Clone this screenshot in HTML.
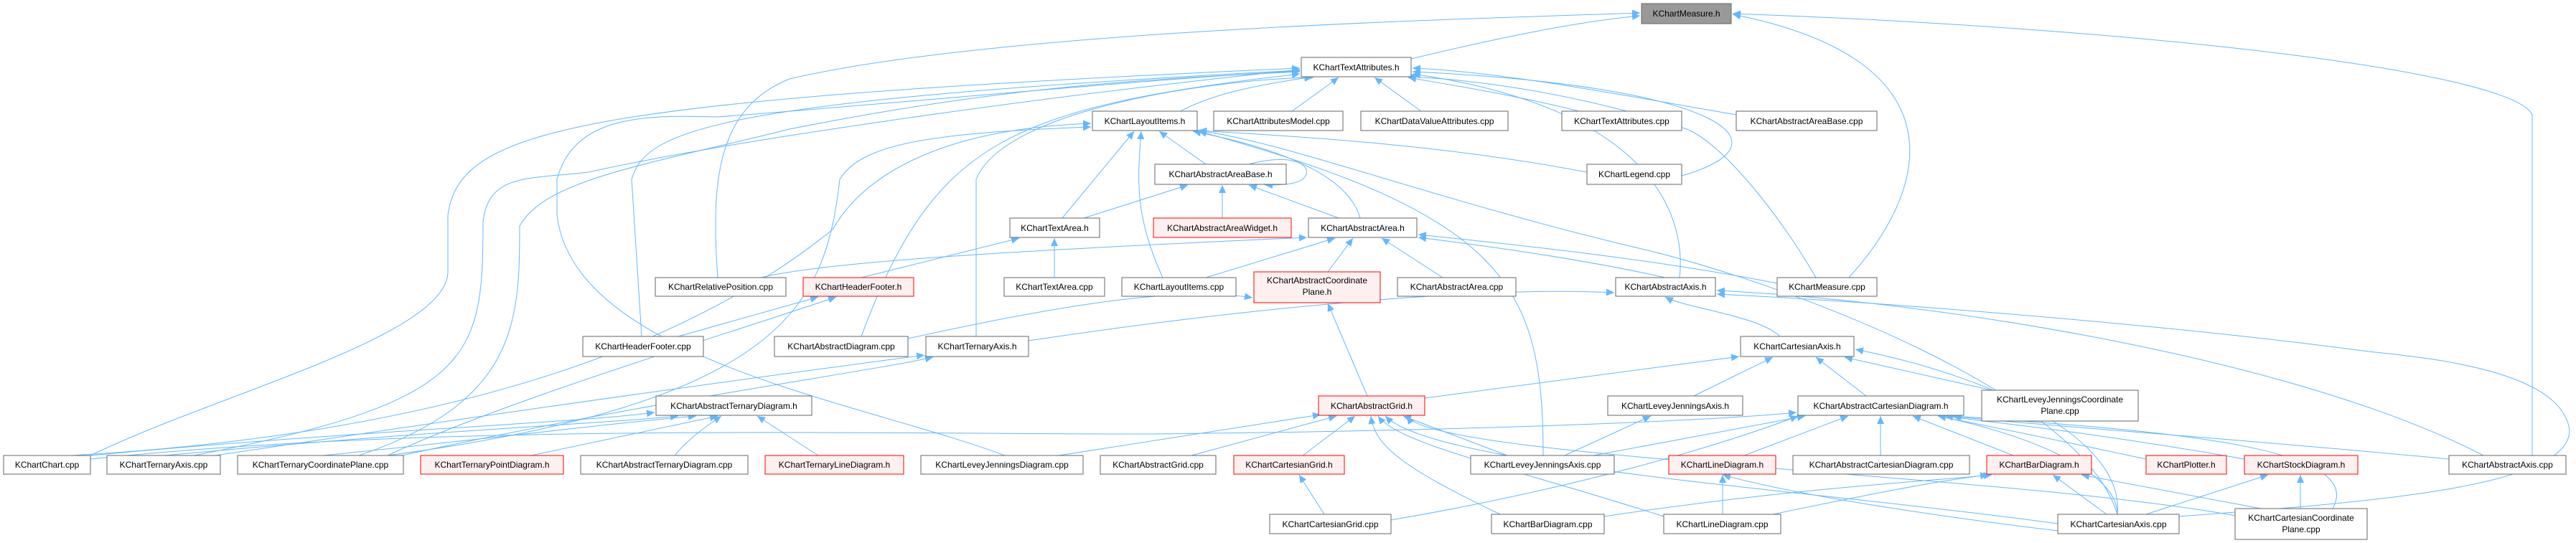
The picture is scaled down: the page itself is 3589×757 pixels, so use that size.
<!DOCTYPE html>
<html><head><meta charset="utf-8"><style>
html,body{margin:0;padding:0;background:#fff;}
svg{display:block;}
text{font-family:"Liberation Sans",sans-serif;font-size:12px;fill:#000;}
.n{fill:#fff;stroke:#666;stroke-width:1;}
.r{fill:#fff0f0;stroke:#f00;stroke-width:1;}
.g{fill:#999;stroke:#666;stroke-width:1;}
path.e{fill:none;stroke:#63b8ff;stroke-width:1;}
</style></head><body>
<svg width="3589" height="757" viewBox="0 0 3589 757" xmlns="http://www.w3.org/2000/svg">
<defs><marker id="a" markerUnits="userSpaceOnUse" markerWidth="12" markerHeight="10" refX="11" refY="5" orient="auto"><path d="M0,0 L11,5 L0,10 z" fill="#63b8ff"/></marker></defs>
<g marker-end="url(#a)">
<path class="e" d="M1966,82 C2100,50 2200,30 2285,22"/>
<path class="e" d="M1000,387 C990,250 1000,150 1100,110 C1400,40 2100,25 2285,18"/>
<path class="e" d="M2576,387 C2700,250 2720,80 2414,20"/>
<path class="e" d="M3528,635 L3528,160 C3500,100 3000,40 2414,19"/>
<path class="e" d="M1645,155 C1700,125 1780,115 1828,107"/>
<path class="e" d="M1800,155 L1865,108"/>
<path class="e" d="M1980,155 L1915,108"/>
<path class="e" d="M2200,155 C2100,130 2000,115 1962,108"/>
<path class="e" d="M2419,160 C2300,140 2100,100 1968,95"/>
<path class="e" d="M2343,245 C2500,200 2400,120 1968,100"/>
<path class="e" d="M2340,387 C2350,300 2300,150 1968,103"/>
<path class="e" d="M2530,387 C2480,300 2400,200 2350,180 C2200,130 2050,110 1960,107"/>
<path class="e" d="M126,635 C300,550 620,470 624,380 L624,300 C640,180 800,140 1811,95"/>
<path class="e" d="M270,635 C660,560 673,500 673,310 C680,240 740,250 820,240 C1000,200 1400,140 1811,97"/>
<path class="e" d="M500,635 C720,560 724,450 724,315 C760,250 900,230 1100,180 C1400,120 1600,110 1811,100"/>
<path class="e" d="M894,469 L880,250 C900,180 1000,140 1811,98"/>
<path class="e" d="M1200,469 C1300,200 1400,150 1811,103"/>
<path class="e" d="M1360,469 L1360,250 C1400,150 1700,110 1830,108"/>
<path class="e" d="M1400,635 C1200,560 800,500 776,300 L776,250 C800,160 900,160 1000,163 C1300,140 1600,110 1811,99"/>
<path class="e" d="M1480,304 L1580,183"/>
<path class="e" d="M1620,387 C1580,300 1585,250 1590,183"/>
<path class="e" d="M1680,229 L1615,183"/>
<path class="e" d="M1895,304 C1880,250 1800,210 1662,183"/>
<path class="e" d="M2211,240 C2000,200 1800,190 1670,182"/>
<path class="e" d="M2150,635 C2150,400 2100,300 1670,183"/>
<path class="e" d="M100,635 C700,600 1000,450 1160,320 C1200,250 1300,180 1520,172"/>
<path class="e" d="M540,635 C1100,560 1150,420 1170,250 C1200,200 1300,185 1520,177"/>
<path class="e" d="M2950,717 C2900,550 2500,400 2300,350 C2000,280 1800,200 1670,182"/>
<path class="e" d="M1740,229 C1790,215 1825,225 1820,243 C1815,257 1790,258 1762,258"/>
<path class="e" d="M1510,304 L1655,258"/>
<path class="e" d="M1703,304 L1703,258"/>
<path class="e" d="M1865,304 L1740,258"/>
<path class="e" d="M1680,387 L1860,332"/>
<path class="e" d="M1850,379 L1885,332"/>
<path class="e" d="M2010,387 L1925,332"/>
<path class="e" d="M2320,387 C2200,360 2050,340 1976,331"/>
<path class="e" d="M2476,395 C2300,360 2100,340 1976,327"/>
<path class="e" d="M1060,387 C1150,365 1400,350 1821,331"/>
<path class="e" d="M1200,387 L1420,332"/>
<path class="e" d="M1469,387 L1469,332"/>
<path class="e" d="M945,469 L1140,414"/>
<path class="e" d="M540,635 C700,560 1000,470 1165,414"/>
<path class="e" d="M1265,472 C1500,420 1650,400 1745,415"/>
<path class="e" d="M1905,552 L1850,423"/>
<path class="e" d="M1433,475 C1800,420 2100,400 2249,408"/>
<path class="e" d="M2480,469 C2450,440 2350,430 2320,414"/>
<path class="e" d="M3460,635 C3200,500 2700,420 2392,405"/>
<path class="e" d="M3036,720 C3300,700 3580,680 3580,600 C3570,520 3400,500 3300,490 C3000,450 2600,420 2392,410"/>
<path class="e" d="M300,635 C800,560 1100,520 1288,495"/>
<path class="e" d="M560,635 C900,560 1200,520 1300,498"/>
<path class="e" d="M1985,555 L2423,497"/>
<path class="e" d="M2360,552 L2470,498"/>
<path class="e" d="M2600,552 L2530,498"/>
<path class="e" d="M2775,544 L2570,498"/>
<path class="e" d="M2950,717 C2960,620 2800,530 2585,487"/>
<path class="e" d="M126,635 C500,600 800,590 912,575"/>
<path class="e" d="M230,635 C600,600 850,590 945,580"/>
<path class="e" d="M450,635 C700,610 850,590 970,580"/>
<path class="e" d="M740,635 L1000,580"/>
<path class="e" d="M940,635 C960,610 990,590 1005,580"/>
<path class="e" d="M1140,635 L1055,580"/>
<path class="e" d="M1475,635 L1840,578"/>
<path class="e" d="M1660,635 L1862,580"/>
<path class="e" d="M1815,635 L1888,580"/>
<path class="e" d="M2100,635 L1955,580"/>
<path class="e" d="M2090,717 C1950,650 1915,620 1910,580"/>
<path class="e" d="M2318,720 C2100,650 1950,620 1920,580"/>
<path class="e" d="M2867,730 C2500,680 2000,650 1930,580"/>
<path class="e" d="M3120,720 C2800,660 2000,640 1960,580"/>
<path class="e" d="M2180,635 L2300,580"/>
<path class="e" d="M126,640 C600,590 1200,605 1600,605 C2100,600 2400,585 2503,575"/>
<path class="e" d="M2220,635 L2515,580"/>
<path class="e" d="M2430,635 L2575,580"/>
<path class="e" d="M2620,635 L2620,580"/>
<path class="e" d="M2805,635 L2665,580"/>
<path class="e" d="M2990,640 C2850,610 2750,590 2700,580"/>
<path class="e" d="M3127,640 C2900,600 2780,590 2710,580"/>
<path class="e" d="M3412,640 C3100,610 2800,590 2720,580"/>
<path class="e" d="M2950,717 C2950,650 2800,600 2700,580"/>
<path class="e" d="M3250,709 C3300,620 3000,600 2722,580"/>
<path class="e" d="M1938,725 C2200,680 2400,620 2505,580"/>
<path class="e" d="M1845,717 L1810,662"/>
<path class="e" d="M2400,717 L2400,662"/>
<path class="e" d="M2867,740 C2700,720 2500,690 2400,662"/>
<path class="e" d="M2235,720 C2500,680 2700,670 2775,662"/>
<path class="e" d="M2935,717 L2860,662"/>
<path class="e" d="M3150,709 L2900,662"/>
<path class="e" d="M2470,717 C2600,690 2700,670 2770,662"/>
<path class="e" d="M2990,717 L3160,662"/>
<path class="e" d="M3205,709 L3205,662"/>
</g>
<g>
<rect class="g" x="2287" y="5" width="125" height="28"/><text x="2349.5" y="23" text-anchor="middle">KChartMeasure.h</text>
<rect class="n" x="1813" y="80" width="153" height="27"/><text x="1889.5" y="98" text-anchor="middle">KChartTextAttributes.h</text>
<rect class="n" x="1522" y="155" width="146" height="27"/><text x="1595" y="173" text-anchor="middle">KChartLayoutItems.h</text>
<rect class="n" x="1691" y="155" width="180" height="27"/><text x="1781" y="173" text-anchor="middle">KChartAttributesModel.cpp</text>
<rect class="n" x="1896" y="155" width="205" height="27"/><text x="1998.5" y="173" text-anchor="middle">KChartDataValueAttributes.cpp</text>
<rect class="n" x="2176" y="155" width="167" height="27"/><text x="2259.5" y="173" text-anchor="middle">KChartTextAttributes.cpp</text>
<rect class="n" x="2419" y="155" width="196" height="27"/><text x="2517" y="173" text-anchor="middle">KChartAbstractAreaBase.cpp</text>
<rect class="n" x="1609" y="229" width="183" height="28"/><text x="1700.5" y="247" text-anchor="middle">KChartAbstractAreaBase.h</text>
<rect class="n" x="2211" y="229" width="132" height="28"/><text x="2277" y="247" text-anchor="middle">KChartLegend.cpp</text>
<rect class="n" x="1407" y="304" width="125" height="27"/><text x="1469.5" y="322" text-anchor="middle">KChartTextArea.h</text>
<rect class="r" x="1607" y="304" width="192" height="27"/><text x="1703" y="322" text-anchor="middle">KChartAbstractAreaWidget.h</text>
<rect class="n" x="1823" y="304" width="151" height="27"/><text x="1898.5" y="322" text-anchor="middle">KChartAbstractArea.h</text>
<rect class="n" x="913" y="387" width="182" height="26"/><text x="1004" y="404" text-anchor="middle">KChartRelativePosition.cpp</text>
<rect class="r" x="1119" y="387" width="154" height="26"/><text x="1196" y="404" text-anchor="middle">KChartHeaderFooter.h</text>
<rect class="n" x="1399" y="387" width="140" height="26"/><text x="1469" y="404" text-anchor="middle">KChartTextArea.cpp</text>
<rect class="n" x="1563" y="387" width="159" height="26"/><text x="1642.5" y="404" text-anchor="middle">KChartLayoutItems.cpp</text>
<rect class="r" x="1747" y="379" width="176" height="43"/><text x="1835" y="395" text-anchor="middle">KChartAbstractCoordinate</text><text x="1835" y="411" text-anchor="middle">Plane.h</text>
<rect class="n" x="1947" y="387" width="165" height="26"/><text x="2029.5" y="404" text-anchor="middle">KChartAbstractArea.cpp</text>
<rect class="n" x="2251" y="387" width="139" height="26"/><text x="2320.5" y="404" text-anchor="middle">KChartAbstractAxis.h</text>
<rect class="n" x="2476" y="387" width="139" height="26"/><text x="2545.5" y="404" text-anchor="middle">KChartMeasure.cpp</text>
<rect class="n" x="812" y="469" width="168" height="28"/><text x="896" y="487" text-anchor="middle">KChartHeaderFooter.cpp</text>
<rect class="n" x="1079" y="469" width="186" height="28"/><text x="1172" y="487" text-anchor="middle">KChartAbstractDiagram.cpp</text>
<rect class="n" x="1290" y="469" width="143" height="28"/><text x="1361.5" y="487" text-anchor="middle">KChartTernaryAxis.h</text>
<rect class="n" x="2425" y="469" width="158" height="28"/><text x="2504" y="487" text-anchor="middle">KChartCartesianAxis.h</text>
<rect class="n" x="914" y="552" width="217" height="27"/><text x="1022.5" y="570" text-anchor="middle">KChartAbstractTernaryDiagram.h</text>
<rect class="r" x="1837" y="552" width="148" height="27"/><text x="1911" y="570" text-anchor="middle">KChartAbstractGrid.h</text>
<rect class="n" x="2240" y="552" width="188" height="27"/><text x="2334" y="570" text-anchor="middle">KChartLeveyJenningsAxis.h</text>
<rect class="n" x="2505" y="552" width="231" height="27"/><text x="2620.5" y="570" text-anchor="middle">KChartAbstractCartesianDiagram.h</text>
<rect class="n" x="2761" y="544" width="218" height="43"/><text x="2870" y="561" text-anchor="middle">KChartLeveyJenningsCoordinate</text><text x="2870" y="577" text-anchor="middle">Plane.cpp</text>
<rect class="n" x="5" y="635" width="121" height="26"/><text x="65.5" y="652" text-anchor="middle">KChartChart.cpp</text>
<rect class="n" x="149" y="635" width="158" height="26"/><text x="228" y="652" text-anchor="middle">KChartTernaryAxis.cpp</text>
<rect class="n" x="331" y="635" width="231" height="26"/><text x="446.5" y="652" text-anchor="middle">KChartTernaryCoordinatePlane.cpp</text>
<rect class="r" x="586" y="635" width="199" height="26"/><text x="685.5" y="652" text-anchor="middle">KChartTernaryPointDiagram.h</text>
<rect class="n" x="809" y="635" width="233" height="26"/><text x="925.5" y="652" text-anchor="middle">KChartAbstractTernaryDiagram.cpp</text>
<rect class="r" x="1066" y="635" width="193" height="26"/><text x="1162.5" y="652" text-anchor="middle">KChartTernaryLineDiagram.h</text>
<rect class="n" x="1283" y="635" width="226" height="26"/><text x="1396" y="652" text-anchor="middle">KChartLeveyJenningsDiagram.cpp</text>
<rect class="n" x="1533" y="635" width="161" height="26"/><text x="1613.5" y="652" text-anchor="middle">KChartAbstractGrid.cpp</text>
<rect class="r" x="1719" y="635" width="154" height="26"/><text x="1796" y="652" text-anchor="middle">KChartCartesianGrid.h</text>
<rect class="n" x="2049" y="635" width="200" height="26"/><text x="2149" y="652" text-anchor="middle">KChartLeveyJenningsAxis.cpp</text>
<rect class="r" x="2325" y="635" width="149" height="26"/><text x="2399.5" y="652" text-anchor="middle">KChartLineDiagram.h</text>
<rect class="n" x="2498" y="635" width="246" height="26"/><text x="2621" y="652" text-anchor="middle">KChartAbstractCartesianDiagram.cpp</text>
<rect class="r" x="2768" y="635" width="146" height="26"/><text x="2841" y="652" text-anchor="middle">KChartBarDiagram.h</text>
<rect class="r" x="2990" y="635" width="112" height="26"/><text x="3046" y="652" text-anchor="middle">KChartPlotter.h</text>
<rect class="r" x="3127" y="635" width="158" height="26"/><text x="3206" y="652" text-anchor="middle">KChartStockDiagram.h</text>
<rect class="n" x="3412" y="635" width="163" height="26"/><text x="3493.5" y="652" text-anchor="middle">KChartAbstractAxis.cpp</text>
<rect class="n" x="1769" y="717" width="169" height="27"/><text x="1853.5" y="735" text-anchor="middle">KChartCartesianGrid.cpp</text>
<rect class="n" x="2078" y="717" width="157" height="27"/><text x="2156.5" y="735" text-anchor="middle">KChartBarDiagram.cpp</text>
<rect class="n" x="2318" y="717" width="163" height="27"/><text x="2399.5" y="735" text-anchor="middle">KChartLineDiagram.cpp</text>
<rect class="n" x="2867" y="717" width="169" height="27"/><text x="2951.5" y="735" text-anchor="middle">KChartCartesianAxis.cpp</text>
<rect class="n" x="3114" y="709" width="184" height="43"/><text x="3206" y="726" text-anchor="middle">KChartCartesianCoordinate</text><text x="3206" y="742" text-anchor="middle">Plane.cpp</text>
</g>
</svg>
</body></html>
